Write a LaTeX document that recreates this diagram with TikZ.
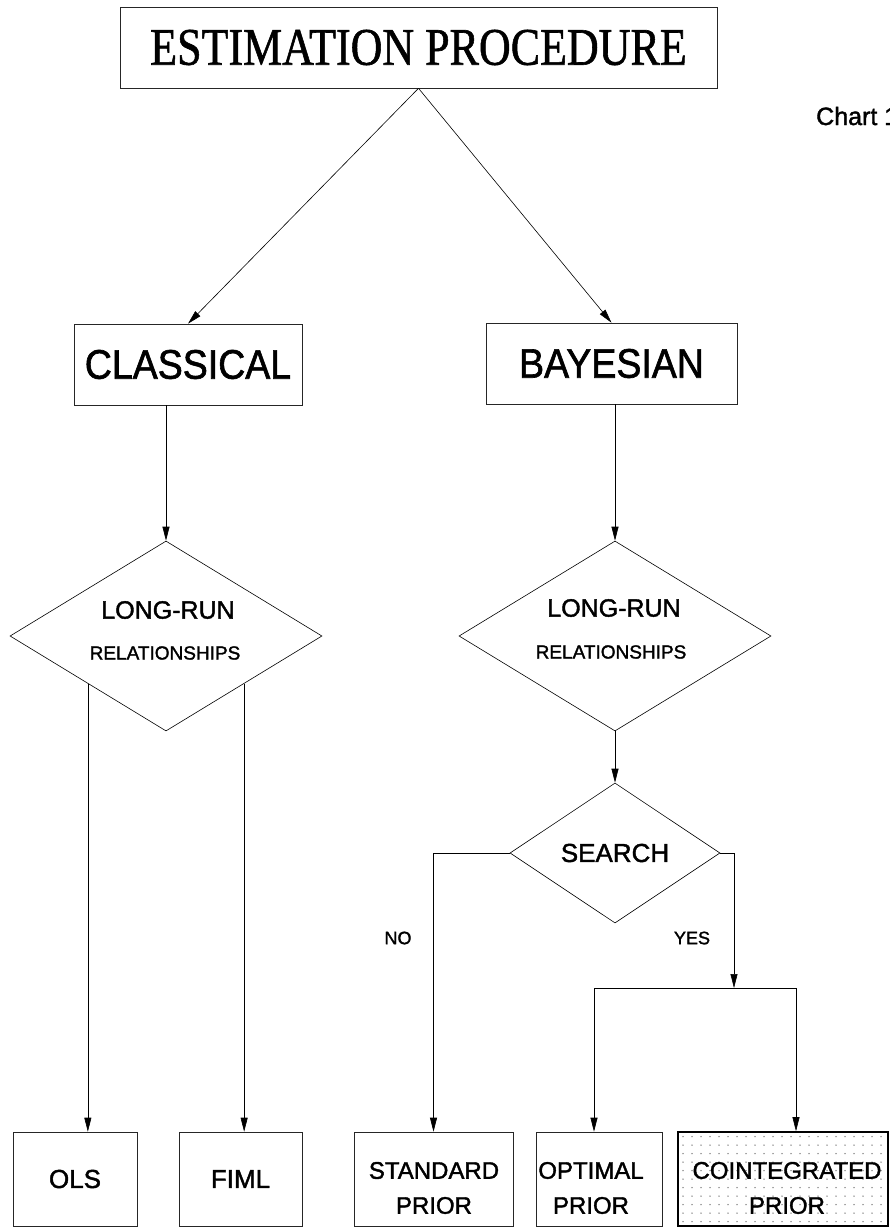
\documentclass[tikz,border=0pt]{standalone}
\usepackage{fontspec}
\usepackage{graphicx}
\setmainfont{Liberation Serif}[FakeBold=1.2]
\setsansfont{Liberation Sans}[FakeBold=1.6]
\usetikzlibrary{shapes.geometric,arrows.meta}
\begin{document}
\begin{tikzpicture}[x=1pt,y=-1pt,
  line/.style={draw=black, line width=0.6pt},
  arr/.style={line, -{Triangle[length=14pt,width=7pt]}},
  box/.style={draw=black!85, line width=0.6pt, rectangle, inner sep=0pt},
  dia/.style={draw=black, line width=0.6pt, diamond, inner sep=0pt},
  lbl/.style={font=\sffamily, inner sep=0pt},
]
\useasboundingbox (0,0) rectangle (890,1227);
\fill[white] (0,0) rectangle (890,1227);

% title
\node[box, minimum width=597pt, minimum height=81pt,
      font=\fontsize{44}{48}\selectfont] (est) at (418.5,47.5)
      {\scalebox{1}[1.2]{ESTIMATION PROCEDURE}};
\node[lbl, font=\sffamily\fontsize{25}{25}\selectfont, anchor=base west] (chart) at (816,125) {Chart 1};

% second level
\node[box, minimum width=228pt, minimum height=81pt,
      font=\sffamily\fontsize{37.5}{40}\selectfont] (cls) at (188,364.5)
      {\scalebox{1}[1.1]{CLASSICAL}};
\node[box, minimum width=251pt, minimum height=81pt,
      font=\sffamily\fontsize{37.5}{40}\selectfont] (bay) at (611.5,363.5)
      {\scalebox{1}[1.1]{BAYESIAN}};

% diamonds
\node[dia, minimum width=312pt, minimum height=190pt] (ld) at (166,636) {};
\node[lbl, font=\sffamily\fontsize{25}{25}\selectfont] (ldA) at (168,610) {LONG-RUN};
\node[lbl, font=\sffamily\fontsize{19}{19}\selectfont] (ldB) at (165,653) {RELATIONSHIPS};

\node[dia, minimum width=312pt, minimum height=190pt] (rd) at (615,636) {};
\node[lbl, font=\sffamily\fontsize{25}{25}\selectfont] (rdA) at (614,608) {LONG-RUN};
\node[lbl, font=\sffamily\fontsize{19}{19}\selectfont] (rdB) at (611,652) {RELATIONSHIPS};

\node[dia, minimum width=210pt, minimum height=140pt,
      font=\sffamily\fontsize{26}{26}\selectfont] (sr) at (615,853) {SEARCH};

% bottom boxes
\node[box, minimum width=124pt, minimum height=94pt,
      font=\sffamily\fontsize{26}{26}\selectfont] (ols) at (75,1179) {OLS};
\node[box, minimum width=123pt, minimum height=94pt,
      font=\sffamily\fontsize{26}{26}\selectfont] (fiml) at (240.5,1179) {FIML};
\node[box, minimum width=159pt, minimum height=94pt] (std) at (433.5,1179) {};
\node[lbl, align=center, font=\sffamily\fontsize{24}{35}\selectfont] (stdT) at (434,1188) {STANDARD\\PRIOR};
\node[box, minimum width=126pt, minimum height=94pt] (opt) at (599,1179) {};
\node[lbl, align=center, font=\sffamily\fontsize{24}{35}\selectfont] (optT) at (591,1188) {OPTIMAL\\PRIOR};

% dotted fill of cointegrated box
\foreach \i in {0,...,22}
  \foreach \j in {0,...,10}
    \fill[black!55] (683+\i*9,1136.5+\j*8.5) circle (0.75pt);
\node[draw=black, line width=1.6pt, rectangle, inner sep=0pt,
      minimum width=210pt, minimum height=94pt] (coi) at (783,1179) {};
\node[lbl, align=center, font=\sffamily\fontsize{24}{35}\selectfont] (coiT) at (787,1188) {COINTEGRATED\\PRIOR};

% connectors
\draw[arr] (est.south) -- (cls.north);
\draw[arr] (est.south) -- (bay.north);
\draw[arr] (ld.north |- cls.south) -- (ld.north);
\draw[arr] (rd.north |- bay.south) -- (rd.north);
\draw[arr] (ld.south west) -- (ld.south west |- ols.north);
\draw[arr] (ld.south east) -- (ld.south east |- fiml.north);
\draw[arr] (rd.south) -- (sr.north);
\draw[arr] (sr.west) -| (std.north);
\coordinate (bar) at (734,988);
\coordinate (barL) at (594,988);
\coordinate (barR) at (796,988);
\draw[arr] (sr.east) -| (bar);
\draw[line] (barL) -- (barR);
\draw[arr] (barL) -- (barL |- opt.north);
\draw[arr] (barR) -- (barR |- coi.north);

% branch labels
\node[lbl, font=\sffamily\fontsize{18}{18}\selectfont] (no) at (398,938) {NO};
\node[lbl, font=\sffamily\fontsize{18}{18}\selectfont] (yes) at (692,938) {YES};
\end{tikzpicture}
\end{document}
